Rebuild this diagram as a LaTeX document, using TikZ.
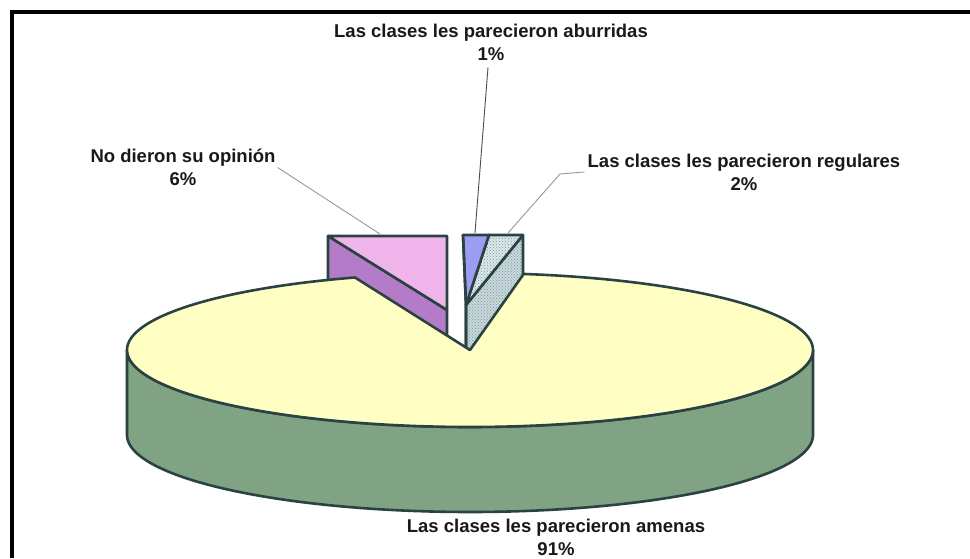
\documentclass[tikz,border=0pt]{standalone}
\usepackage{fontspec}
\setmainfont{Liberation Sans}
\usetikzlibrary{patterns}
\definecolor{edge}{HTML}{2B4242}
\definecolor{topyel}{HTML}{FFFFC4}
\definecolor{sidegrn}{HTML}{7FA383}
\definecolor{pinkc}{HTML}{F0B6EC}
\definecolor{purplec}{HTML}{B47CC8}
\definecolor{bluec}{HTML}{9C9CF0}
\definecolor{dotc}{HTML}{DCE8EC}
\definecolor{dotdark}{HTML}{C8D8DC}
\definecolor{dotpat}{HTML}{7F9598}
\begin{document}
\begin{tikzpicture}[x=1pt,y=-1pt,
  slice/.style={draw=edge,line width=2.6pt,line join=round},
  lbl/.style={font=\bfseries\fontsize{18.5}{23}\selectfont,align=center,inner sep=0pt,text=black!90},
  leader/.style={line width=0.9pt}]
\useasboundingbox (0,0) rectangle (970,558);
\fill[white] (0,0) rectangle (970,558);
% frame
\draw[line width=4pt] (12,558) -- (12,12) -- (970,12);

% named points
\coordinate (apex) at (470,350);
\coordinate (tipab) at (475,233);
\coordinate (tipreg) at (508,233);
\coordinate (bendreg) at (560,174);
\coordinate (tipno) at (380,234);

% exploded slice: no opinion
\filldraw[slice, fill=purplec] (328,236) -- (447,310) -- (447,400) -- (328,326) -- cycle;
\filldraw[slice, fill=pinkc] (328,236) -- (447,236) -- (447,310) -- cycle;

% exploded slices: regulares + aburridas
\path[slice, preaction={fill=dotdark}, pattern=crosshatch dots, pattern color=dotpat]
  (523,235) -- (466,305) -- (466,395) -- (523,325) -- cycle;
\path[slice, preaction={fill=dotc}, pattern=crosshatch dots, pattern color=dotpat]
  (489,235) -- (523,235) -- (466,305) -- cycle;
\filldraw[slice, fill=bluec] (463,235) -- (489,235) -- (466,305) -- cycle;
\draw[slice] (463,235) -- (466,305) -- (466,395);

% side of main slice
\filldraw[slice, fill=sidegrn]
  plot[domain=180:360, samples=90] ({470+343*cos(\x)},{350-77*sin(\x)})
  -- plot[domain=360:180, samples=90] ({470+343*cos(\x)},{435-77*sin(\x)}) -- cycle;
% top of main slice
\filldraw[slice, fill=topyel] (apex)
  -- plot[domain=109.6:441, samples=200] ({470+343*cos(\x)},{350-77*sin(\x)}) -- cycle;

% labels
\node[lbl, anchor=north] (labab) at (491,23.5) {Las clases les parecieron aburridas\\1\%};
\node[lbl, anchor=north] (labreg) at (744,153.5) {Las clases les parecieron regulares\\2\%};
\node[lbl, anchor=north] (labno) at (183,149) {No dieron su opinión\\6\%};
\node[lbl, anchor=north] (labam) at (556,519) {Las clases les parecieron amenas\\91\%};

% leaders
\draw[leader, draw=black!70] ([xshift=-3pt,yshift=-7pt]labab.south) -- (tipab);
\draw[leader, draw=black!40] ([xshift=-3pt]labreg.west) -- (bendreg) -- (tipreg);
\draw[leader, draw=black!40] ([xshift=2pt]labno.east) -- (tipno);
\end{tikzpicture}
\end{document}
